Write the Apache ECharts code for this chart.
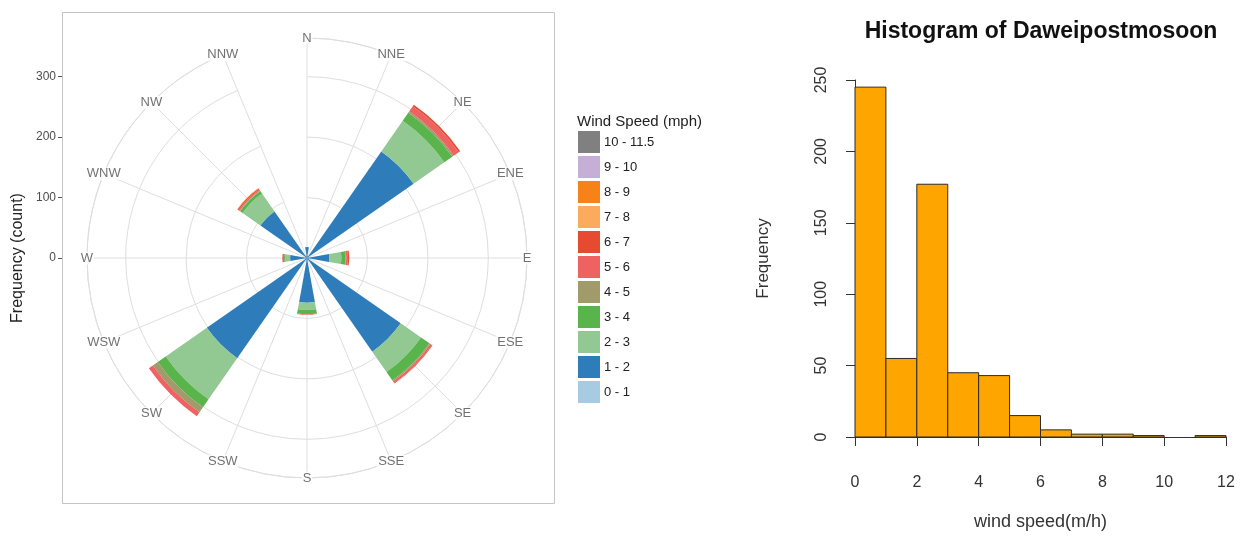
<!DOCTYPE html>
<html>
<head>
<meta charset="utf-8">
<script src="https://cdn.jsdelivr.net/npm/echarts@6/dist/echarts.min.js"></script>
<style>
  html, body { margin: 0; padding: 0; background: #ffffff; }
  #chart { width: 1248px; height: 536px; }
</style>
</head>
<body>
<div id="chart"></div>
<script>
// ---- Wind rose: 16 compass points, clockwise from north ----
const directions = ['N', 'NNE', 'NE', 'ENE', 'E', 'ESE', 'SE', 'SSE',
                    'S', 'SSW', 'SW', 'WSW', 'W', 'WNW', 'NW', 'NNW'];

// Speed classes (mph) and their fill colours
const speedBins = ['0 - 1', '1 - 2', '2 - 3', '3 - 4', '4 - 5', '5 - 6',
                   '6 - 7', '7 - 8', '8 - 9', '9 - 10', '10 - 11.5'];
const speedColors = ['#a6cbe2', '#2e7dba', '#92c891', '#5ab44c', '#a19a6b', '#ee6262',
                     '#e64b31', '#fcab5c', '#f7821a', '#c6afd7', '#808080'];

// Counts per speed class, one entry per direction (same order as `directions`)
const speed0to1   = [0, 0,   0, 0,  0, 0,   0, 0,  0, 0,   0, 0,  0, 0,  0, 0];
const speed1to2   = [18, 4, 215, 3, 37, 4, 189, 4, 74, 4, 202, 3, 28, 3, 94, 4];
const speed2to3   = [0, 0,  62, 0, 20, 0,  41, 0, 12, 0,  83, 0,  8, 0, 36, 0];
const speed3to4   = [0, 0,  16, 0,  7, 0,  17, 0,  7, 0,  16, 0,  2, 0,  5, 0];
const speed4to5   = [0, 0,   3, 0,  1, 0,   2, 0,  0, 0,  10, 0,  0, 0,  1, 0];
const speed5to6   = [0, 0,  10, 0,  3, 0,   3, 0,  1, 0,   8, 0,  3, 0,  2, 0];
const speed6to7   = [0, 0,   3, 0,  2, 0,   1, 0,  0, 0,   0, 0,  0, 0,  2, 0];
const speed7to8   = [0, 0,   0, 0,  0, 0,   0, 0,  0, 0,   0, 0,  0, 0,  1, 0];
const speed8to9   = [0, 0,   0, 0,  0, 0,   0, 0,  0, 0,   0, 0,  0, 0,  0, 0];
const speed9to10  = [0, 0,   0, 0,  0, 0,   0, 0,  0, 0,   0, 0,  0, 0,  0, 0];
const speed10to12 = [0, 0,   0, 0,  0, 0,   0, 0,  0, 0,   0, 0,  0, 0,  0, 0];
const speedCounts = [speed0to1, speed1to2, speed2to3, speed3to4, speed4to5, speed5to6,
                     speed6to7, speed7to8, speed8to9, speed9to10, speed10to12];

// Radial frequency axis
const roseTicks = [0, 100, 200, 300];
const roseMax = 364;

// ---- Histogram of wind speed ----
const histEdges  = [0, 1, 2, 3, 4, 5, 6, 7, 8, 9, 10, 11, 12];
const histCounts = [245, 55, 177, 45, 43, 15, 5, 2, 2, 1, 0, 1];
const histXTicks = [0, 2, 4, 6, 8, 10, 12];
const histYTicks = [0, 50, 100, 150, 200, 250];

const FONT = '"Liberation Sans", Arial, sans-serif';
const gridGrey = '#dedede';
const roseCenter = [307, 258];
const roseRadius = 220;

const chart = echarts.init(document.getElementById('chart'), null, { renderer: 'canvas' });

// Stacked wedges live on polar #1, whose bands are centred on each compass point
const roseSeries = speedBins.map((bin, i) => ({
  type: 'bar',
  name: bin,
  coordinateSystem: 'polar',
  polarIndex: 1,
  stack: 'wind',
  data: speedCounts[i],
  barCategoryGap: '10%',
  itemStyle: { color: speedColors[i] },
  emphasis: { disabled: true },
  z: 3
}));

// Direction names sitting on the outer ring (polar #0 carries the grid)
const compassLabels = {
  type: 'scatter',
  coordinateSystem: 'polar',
  polarIndex: 0,
  data: directions.map(d => [roseMax, d]),
  symbolSize: 0,
  silent: true,
  z: 5,
  label: {
    show: true,
    position: 'inside',
    formatter: p => p.value[1],
    color: '#4d4d4d',
    fontSize: 13,
    fontFamily: FONT,
    backgroundColor: '#ffffff',
    padding: [0, 1]
  }
};

const histSeries = {
  type: 'custom',
  xAxisIndex: 1,
  yAxisIndex: 1,
  data: histCounts.map((c, i) => [histEdges[i], histEdges[i + 1], c]),
  encode: { x: [0, 1], y: 2 },
  renderItem: function (params, api) {
    const count = api.value(2);
    if (!count) return null;
    const base = api.coord([api.value(0), 0]);
    const top = api.coord([api.value(1), count]);
    return {
      type: 'rect',
      shape: { x: base[0], y: top[1], width: top[0] - base[0], height: base[1] - top[1] },
      style: { fill: '#ffa500', stroke: '#2b2b2b', lineWidth: 1 }
    };
  },
  silent: true,
  z: 3
};

const halfBand = 360 / directions.length / 2;

const option = {
  animation: false,
  backgroundColor: '#ffffff',
  textStyle: { fontFamily: FONT },
  title: [
    {
      text: 'Histogram of Daweipostmosoon',
      left: 1041, top: 20, textAlign: 'center', padding: 0,
      textStyle: { fontSize: 23, fontWeight: 'bold', color: '#111', fontFamily: FONT }
    },
    {
      text: 'Wind Speed (mph)',
      left: 577, top: 114, padding: 0,
      textStyle: { fontSize: 15, fontWeight: 'normal', color: '#222', fontFamily: FONT }
    }
  ],
  legend: {
    orient: 'vertical',
    left: 578, top: 131,
    padding: 0,
    itemWidth: 22, itemHeight: 22, itemGap: 3,
    icon: 'rect',
    data: speedBins.slice().reverse(),
    selectedMode: false,
    textStyle: { fontSize: 13, color: '#222', fontFamily: FONT, padding: [0, 0, 0, -1] }
  },
  polar: [
    { center: roseCenter, radius: roseRadius },
    { center: roseCenter, radius: roseRadius }
  ],
  angleAxis: [
    {
      polarIndex: 0,
      type: 'category',
      data: directions,
      boundaryGap: false,
      startAngle: 90,
      clockwise: true,
      axisLine: { show: true, lineStyle: { color: gridGrey, width: 1 } },
      axisTick: { show: false },
      axisLabel: { show: false },
      splitLine: { show: true, lineStyle: { color: gridGrey, width: 1 } }
    },
    {
      polarIndex: 1,
      type: 'category',
      data: directions,
      boundaryGap: true,
      startAngle: 90 + halfBand,
      clockwise: true,
      axisLine: { show: false },
      axisTick: { show: false },
      axisLabel: { show: false },
      splitLine: { show: false }
    }
  ],
  radiusAxis: [
    {
      polarIndex: 0,
      type: 'value',
      min: 0, max: roseMax,
      interval: 100,
      axisLine: { show: false },
      axisTick: { show: false },
      axisLabel: { show: false },
      splitLine: { show: true, lineStyle: { color: gridGrey, width: 1 } }
    },
    {
      polarIndex: 1,
      type: 'value',
      min: 0, max: roseMax,
      axisLine: { show: false },
      axisTick: { show: false },
      axisLabel: { show: false },
      splitLine: { show: false }
    }
  ],
  grid: [
    { left: 62, top: roseCenter[1] - roseRadius, width: 10, height: roseRadius },
    { left: 855, top: 80, width: 371, height: 360 }
  ],
  xAxis: [
    { gridIndex: 0, type: 'value', min: 0, max: 1, show: false },
    {
      gridIndex: 1, type: 'value', min: 0, max: 12, interval: 2, offset: 15,
      axisLine: { show: true, lineStyle: { color: '#333', width: 1 } },
      axisTick: { show: true, length: 9, lineStyle: { color: '#333' }, customValues: histXTicks },
      axisLabel: { margin: 23, fontSize: 16, color: '#333', customValues: histXTicks },
      splitLine: { show: false },
      name: 'wind speed(m/h)', nameLocation: 'middle', nameGap: 61,
      nameTextStyle: { fontSize: 18, color: '#333' }
    }
  ],
  yAxis: [
    {
      gridIndex: 0, type: 'value', min: 0, max: roseMax,
      axisLine: { show: false },
      axisTick: { show: true, length: 4, lineStyle: { color: '#555' }, customValues: roseTicks },
      axisLabel: { margin: 6, fontSize: 12, color: '#4d4d4d', customValues: roseTicks },
      splitLine: { show: false }
    },
    {
      gridIndex: 1, type: 'value', min: 0, max: 250, interval: 50, offset: 15,
      axisLine: { show: true, lineStyle: { color: '#333', width: 1 } },
      axisTick: { show: true, length: 9, lineStyle: { color: '#333' }, customValues: histYTicks },
      axisLabel: { rotate: 90, margin: 10, fontSize: 16, color: '#333', customValues: histYTicks },
      splitLine: { show: false },
      name: 'Frequency', nameLocation: 'middle', nameGap: 68, nameRotate: 90,
      nameTextStyle: { fontSize: 17, color: '#333' }
    }
  ],
  graphic: [
    {
      type: 'rect', z: -10, silent: true,
      shape: { x: 62.5, y: 12.5, width: 492, height: 491 },
      style: { fill: 'none', stroke: '#c4c4c4', lineWidth: 1 }
    },
    {
      type: 'text', x: 18, y: 258, rotation: Math.PI / 2, silent: true,
      style: { text: 'Frequency (count)', fill: '#222', font: '16px ' + FONT, align: 'center', verticalAlign: 'middle' }
    }
  ],
  series: [...roseSeries, compassLabels, histSeries]
};

chart.setOption(option);
</script>
</body>
</html>
